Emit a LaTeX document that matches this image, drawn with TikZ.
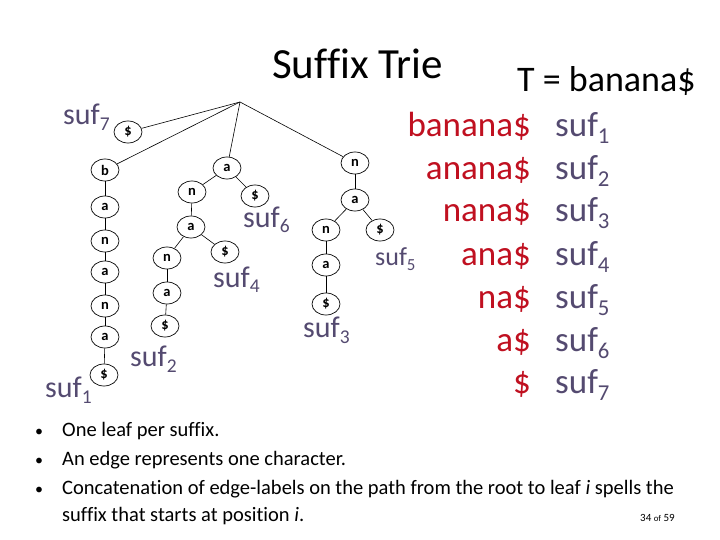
\documentclass[tikz,border=0pt]{standalone}
\usepackage{fontspec}
\setmainfont{Carlito}[Ligatures=CommonOff]
\usetikzlibrary{shapes.geometric}
\definecolor{sufcol}{RGB}{84,74,112}
\definecolor{redtxt}{RGB}{192,16,32}
\newcommand\suflab[1]{suf\raisebox{-0.2em}{\scalebox{0.65}{#1}}}
\newcommand\nlet[1]{\scalebox{1.45}{\fontsize{10}{10}\selectfont\bfseries #1}}
\begin{document}
\begin{tikzpicture}[x=1pt,y=-1pt,
  tn/.style={ellipse, draw, line width=0.7pt, minimum width=28pt, minimum height=22pt, inner sep=0pt},
  ed/.style={line width=0.6pt},
  slab/.style={anchor=base west, text=sufcol, inner sep=0pt, font=\fontsize{30}{30}\selectfont},
  slabsmall/.style={anchor=base west, text=sufcol, inner sep=0pt, font=\fontsize{26}{26}\selectfont},
  redcol/.style={anchor=base east, text=redtxt, inner sep=0pt, font=\fontsize{35}{35}\selectfont},
  sufcolr/.style={anchor=base west, text=sufcol, inner sep=0pt, font=\fontsize{35}{35}\selectfont},
  bul/.style={anchor=base west, inner sep=0pt, font=\fontsize{20.5}{20.5}\selectfont},
  bulmark/.style={anchor=base west, inner sep=0pt, font=\fontsize{16}{16}\selectfont},
]
\useasboundingbox (0,0) rectangle (720,540);
\fill[white] (0,0) rectangle (720,540);

% title
\node[anchor=base west, inner sep=0pt, font=\fontsize{43}{43}\selectfont] (title) at (272,79) {Suffix Trie};
\node[anchor=base west, inner sep=0pt, font=\fontsize{36}{36}\selectfont] (tstr) at (517,92) {T = banana\$};

% tree
\coordinate (root) at (240,102);
\node[tn] (d7) at (128,132) {\nlet{\$}};
% branch b
\node[tn] (b1) at (105,170) {\nlet{b}};
\node[tn] (b2) at (105,207) {\nlet{a}};
\node[tn] (b3) at (105,241) {\nlet{n}};
\node[tn] (b4) at (105,272) {\nlet{a}};
\node[tn] (b5) at (105,306) {\nlet{n}};
\node[tn] (b6) at (105,337) {\nlet{a}};
\node[tn] (b7) at (104,375) {\nlet{\$}};
% branch a
\node[tn] (a1) at (227,168) {\nlet{a}};
\node[tn] (a1d) at (255,196) {\nlet{\$}};
\node[tn] (a2) at (192,192) {\nlet{n}};
\node[tn] (a3) at (191,227) {\nlet{a}};
\node[tn] (a3d) at (225,252) {\nlet{\$}};
\node[tn] (a4) at (167,258) {\nlet{n}};
\node[tn] (a5) at (167,293) {\nlet{a}};
\node[tn] (a6) at (165,326) {\nlet{\$}};
% branch n
\node[tn] (n1) at (355,163) {\nlet{n}};
\node[tn] (n2) at (355,200) {\nlet{a}};
\node[tn] (n2d) at (380,230) {\nlet{\$}};
\node[tn] (n3) at (326,230) {\nlet{n}};
\node[tn] (n4) at (326,265) {\nlet{a}};
\node[tn] (n5) at (326,304) {\nlet{\$}};

\draw[ed] (root) -- (d7);
\draw[ed] (root) -- (b1);
\draw[ed] (root) -- (a1);
\draw[ed] (root) -- (n1);
\draw[ed] (b1) -- (b2); \draw[ed] (b2) -- (b3); \draw[ed] (b3) -- (b4);
\draw[ed] (b4) -- (b5); \draw[ed] (b5) -- (b6); \draw[ed] (b6) -- (b7);
\draw[ed] (a1) -- (a2); \draw[ed] (a1) -- (a1d);
\draw[ed] (a2) -- (a3); \draw[ed] (a3) -- (a4); \draw[ed] (a3) -- (a3d);
\draw[ed] (a4) -- (a5); \draw[ed] (a5) -- (a6);
\draw[ed] (n1) -- (n2); \draw[ed] (n2) -- (n3); \draw[ed] (n2) -- (n2d);
\draw[ed] (n3) -- (n4); \draw[ed] (n4) -- (n5);

% leaf labels
\node[slab] (l7) at (63,125) {\suflab{7}};
\node[slab] (l1) at (45,397) {\suflab{1}};
\node[slab] (l2) at (130,366) {\suflab{2}};
\node[slab] (l6) at (243,227) {\suflab{6}};
\node[slab] (l4) at (213,287) {\suflab{4}};
\node[slab] (l3) at (303,337) {\suflab{3}};
\node[slabsmall] (l5) at (375,265) {\suflab{5}};

% suffix list
\node[redcol] (r1) at (531,137) {banana\$};
\node[redcol] (r2) at (531,180) {anana\$};
\node[redcol] (r3) at (531,222) {nana\$};
\node[redcol] (r4) at (531,265) {ana\$};
\node[redcol] (r5) at (531,308) {na\$};
\node[redcol] (r6) at (531,351) {a\$};
\node[redcol] (r7) at (531,393) {\$};
\node[sufcolr] (s1) at (555,137) {\suflab{1}};
\node[sufcolr] (s2) at (555,180) {\suflab{2}};
\node[sufcolr] (s3) at (555,222) {\suflab{3}};
\node[sufcolr] (s4) at (555,265) {\suflab{4}};
\node[sufcolr] (s5) at (555,308) {\suflab{5}};
\node[sufcolr] (s6) at (555,351) {\suflab{6}};
\node[sufcolr] (s7) at (555,393) {\suflab{7}};

% bullets
\node[bulmark] (bu1) at (35,436) {•};
\node[bulmark] (bu2) at (35,465) {•};
\node[bulmark] (bu3) at (35,494) {•};
\node[bul] (t1) at (62,436) {One leaf per suffix.};
\node[bul] (t2) at (62,465) {An edge represents one character.};
\node[bul] (t3) at (62,494) {Concatenation of edge-labels on the path from the root to leaf \textit{i} spells the};
\node[bul] (t4) at (62,521) {suffix that starts at position \textit{i}.};
\node[anchor=base east, inner sep=0pt, font=\fontsize{11}{11}\selectfont] (pg) at (675,521) {34 \scalebox{0.8}{of} 59};
\end{tikzpicture}
\end{document}
